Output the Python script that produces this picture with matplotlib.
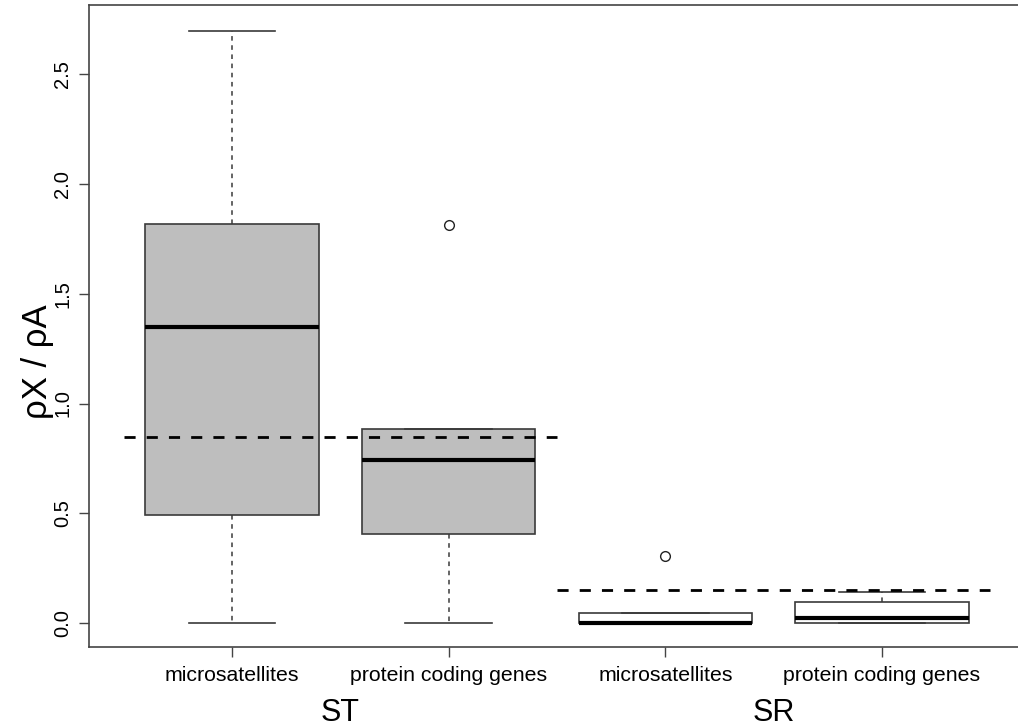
import matplotlib
matplotlib.use("Agg")
import matplotlib.pyplot as plt
from matplotlib.transforms import blended_transform_factory

plt.rcParams['font.family'] = ['Liberation Sans', 'DejaVu Sans']

# ---- data ----
categories = ["microsatellites", "protein coding genes", "microsatellites", "protein coding genes"]
groups = ["ST", "SR"]
whisker_low = [0.0, 0.0, 0.0, 0.0]
q1 = [0.495, 0.405, 0.0, 0.0]
medians = [1.35, 0.741, 0.0, 0.026]
q3 = [1.818, 0.882, 0.049, 0.099]
whisker_high = [2.695, 0.882, 0.049, 0.145]
outliers = [[], [1.81], [0.306], []]
fills = ["#BEBEBE", "#BEBEBE", "#FFFFFF", "#FFFFFF"]
ref_levels = [0.85, 0.15]
ref_spans = [(0.5, 2.5), (2.5, 4.5)]
yticks = [0.0, 0.5, 1.0, 1.5, 2.0, 2.5]

W, H = 1018, 727
fig = plt.figure(figsize=(W / 100, H / 100), dpi=100)
ax = fig.add_axes([89 / W, 1 - 647 / H, (1025 - 89) / W, (647 - 5) / H])

stats = []
for i in range(len(categories)):
    stats.append(dict(whislo=whisker_low[i], q1=q1[i], med=medians[i], q3=q3[i],
                      whishi=whisker_high[i], fliers=outliers[i], label=categories[i]))

positions = list(range(1, len(categories) + 1))
edge = "#3a3a3a"
bp = ax.bxp(stats, positions=positions, widths=0.8, capwidths=0.4,
            patch_artist=True, showfliers=True,
            boxprops=dict(edgecolor=edge, linewidth=1.2),
            medianprops=dict(color="black", linewidth=3, solid_capstyle="butt"),
            whiskerprops=dict(color=edge, linewidth=1.1, linestyle=(0, (3, 3))),
            capprops=dict(color=edge, linewidth=1.2),
            flierprops=dict(marker="o", markersize=7, markerfacecolor="none",
                            markeredgecolor="#222222", markeredgewidth=1.0))
for patch, c in zip(bp["boxes"], fills):
    patch.set_facecolor(c)

for lvl, (x0, x1) in zip(ref_levels, ref_spans):
    ax.plot([x0, x1], [lvl, lvl], color="black", linewidth=2,
            linestyle=(0, (4, 4)), dash_capstyle="butt", zorder=5)

ax.set_xlim(0.34, 4.66)
ax.set_ylim(-0.1072, 2.8125)
ax.set_yticks(yticks)
ax.set_yticklabels([f"{v:.1f}" for v in yticks], rotation=90, va="center", fontsize=14.5)
ax.set_xticks(positions)
ax.set_xticklabels(categories, fontsize=15.3)
ax.tick_params(axis="y", length=7, width=1, color="#444444", pad=5)
ax.tick_params(axis="x", length=7, width=1, color="#444444", pad=7)
for s in ax.spines.values():
    s.set_color("#444444")
    s.set_linewidth(1.2)

trans = blended_transform_factory(ax.transData, ax.transAxes)
for g, xc in zip(groups, [1.5, 3.5]):
    ax.text(xc, -0.103, g, transform=trans, ha="center", va="center", fontsize=22)

fig.text(38 / W, 1 - 362 / H, "ρX / ρA", rotation=90, ha="center", va="center", fontsize=25)

fig.savefig("out.png", dpi=100)
